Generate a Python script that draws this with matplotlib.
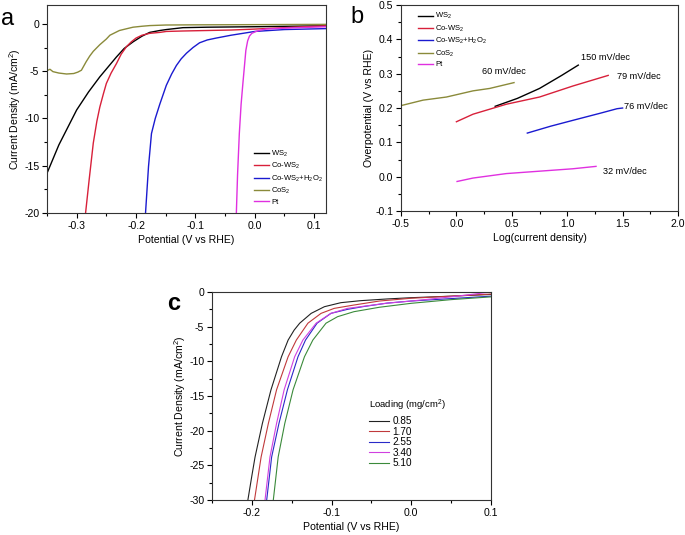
import matplotlib
matplotlib.use('Agg')
import matplotlib.pyplot as plt
from matplotlib.ticker import MultipleLocator
import numpy as np

plt.rcParams['font.family'] = ['Liberation Sans', 'DejaVu Sans']
plt.rcParams['mathtext.default'] = 'regular'
plt.rcParams['axes.unicode_minus'] = False
plt.rcParams['axes.linewidth'] = 0.8
plt.rcParams['axes.edgecolor'] = '#333333'

# ---- panel a: polarization curves ----
names_a = ['WS$_2$', 'Co-WS$_2$', 'Co-WS$_2$+H$_2$O$_2$', 'CoS$_2$', 'Pt']
colors_a = ['black', '#d8203a', '#1a1ad0', '#8a8a3a', '#e030e0']

ws2_x = [-0.35, -0.33, -0.30, -0.28, -0.261, -0.245, -0.233, -0.22, -0.205, -0.19, -0.177,
         -0.16, -0.149, -0.121, -0.08, 0.0, 0.06, 0.12]
ws2_y = [-15.8, -12.8, -9.1, -7.2, -5.6, -4.4, -3.5, -2.6, -1.9, -1.3, -0.9,
         -0.7, -0.6, -0.4, -0.35, -0.3, -0.25, -0.2]
cows2_x = [-0.285, -0.279, -0.272, -0.266, -0.261, -0.255, -0.25, -0.242, -0.233, -0.225,
           -0.216, -0.208, -0.2, -0.19, -0.177, -0.16, -0.149, -0.12, -0.08, -0.04, 0.0, 0.05, 0.12]
cows2_y = [-20, -16.5, -12.6, -10.3, -8.8, -7.4, -6.3, -5.2, -4.2, -3.2,
           -2.4, -1.9, -1.5, -1.2, -1.0, -0.9, -0.8, -0.75, -0.7, -0.65, -0.55, -0.4, -0.2]
h2o2_x = [-0.184, -0.179, -0.174, -0.1676, -0.16, -0.149, -0.14, -0.132, -0.124, -0.115,
          -0.104, -0.093, -0.08, -0.065, -0.04, -0.02, 0.0, 0.05, 0.12]
h2o2_y = [-20, -15.1, -11.6, -10.0, -8.5, -6.5, -5.3, -4.4, -3.7, -3.1,
          -2.5, -2.0, -1.7, -1.5, -1.2, -1.0, -0.8, -0.6, -0.5]
cos2_x = [-0.35, -0.345, -0.34, -0.33, -0.317, -0.305, -0.298, -0.292, -0.284, -0.278, -0.272,
          -0.261, -0.25, -0.244, -0.236, -0.228, -0.215, -0.205, -0.19, -0.177, -0.15, -0.1, 0.0, 0.12]
cos2_y = [-4.95, -4.8, -5.05, -5.2, -5.3, -5.25, -5.1, -4.9, -4.0, -3.4, -2.9,
          -2.2, -1.6, -1.2, -0.95, -0.7, -0.5, -0.35, -0.25, -0.18, -0.12, -0.1, -0.08, -0.05]
pt_x = [-0.031, -0.029, -0.026, -0.023, -0.02, -0.017, -0.015, -0.012, -0.009, -0.005,
        0.002, 0.01, 0.019, 0.05, 0.12]
pt_y = [-20, -16, -11.6, -8.5, -6.3, -4.2, -2.8, -1.8, -1.3, -1.0,
        -0.8, -0.65, -0.55, -0.45, -0.3]

# ---- panel b: Tafel plots ----
tws2_x = [0.35, 0.55, 0.75, 0.95, 1.1]
tws2_y = [0.205, 0.228, 0.257, 0.295, 0.325]
tcows2_x = [0.0, 0.15, 0.45, 0.75, 1.05, 1.37]
tcows2_y = [0.160, 0.182, 0.211, 0.232, 0.264, 0.295]
th2o2_x = [0.64, 0.85, 1.05, 1.3, 1.45, 1.5]
th2o2_y = [0.127, 0.147, 0.164, 0.185, 0.198, 0.200]
tcos2_x = [-0.5, -0.3, -0.09, 0.15, 0.30, 0.52]
tcos2_y = [0.207, 0.223, 0.232, 0.250, 0.257, 0.274]
tpt_x = [0.006, 0.15, 0.45, 0.75, 1.05, 1.26]
tpt_y = [-0.014, -0.004, 0.009, 0.016, 0.023, 0.030]
slopes = ['150 mV/dec', '79 mV/dec', '76 mV/dec', '60 mV/dec', '32 mV/dec']
slope_x = [1.12, 1.45, 1.51, 0.23, 1.32]
slope_y = [0.347, 0.293, 0.203, 0.307, 0.016]

# ---- panel c: loading dependence ----
loadings = ['0.85', '1.70', '2.55', '3.40', '5.10']
colors_c = ['#222222', '#c0393b', '#2a2ac8', '#d040e0', '#3a8a3a']
l085_x = [-0.205, -0.2, -0.196, -0.1868, -0.176, -0.1628, -0.1545, -0.147, -0.140, -0.1256,
          -0.109, -0.0884, -0.0636, -0.03, 0.0, 0.05, 0.1]
l085_y = [-30, -26.5, -23.8, -18.95, -14.1, -9.33, -6.93, -5.5, -4.5, -3.08,
          -2.12, -1.54, -1.25, -1.0, -0.82, -0.6, -0.35]
l170_x = [-0.1967, -0.1884, -0.1793, -0.169, -0.1545, -0.1442, -0.1297, -0.1132, -0.0967,
          -0.072, -0.04, 0.0, 0.05, 0.1]
l170_y = [-30, -23.8, -18.95, -14.1, -9.33, -6.93, -4.5, -3.08, -2.36,
          -1.88, -1.3, -0.9, -0.6, -0.3]
l255_x = [-0.1814, -0.1752, -0.166, -0.1554, -0.1421, -0.1327, -0.1182, -0.1008, -0.080,
          -0.06, -0.03, 0.0, 0.05, 0.1]
l255_y = [-30, -23.8, -18.95, -14.1, -9.33, -6.93, -4.5, -3.08, -2.5,
          -2.1, -1.6, -1.3, -0.95, -0.6]
l340_x = [-0.1835, -0.1773, -0.169, -0.1595, -0.1463, -0.136, -0.1194, -0.1008, -0.080,
          -0.064, -0.03, 0.0, 0.05, 0.1]
l340_y = [-30, -23.8, -18.95, -14.1, -9.33, -6.93, -4.5, -3.08, -2.36,
          -2.12, -1.6, -1.3, -0.7, 0.0]
l510_x = [-0.1731, -0.167, -0.1587, -0.1483, -0.134, -0.1235, -0.107, -0.0925, -0.072,
          -0.04, 0.0, 0.05, 0.1]
l510_y = [-30, -23.8, -18.95, -14.1, -9.33, -6.93, -4.5, -3.56, -2.84,
          -2.2, -1.63, -1.1, -0.7]

fig = plt.figure(figsize=(6.85, 5.35), dpi=100)
axa = fig.add_axes([0.0686, 0.6019, 0.4073, 0.3888])
axb = fig.add_axes([0.5854, 0.6056, 0.4044, 0.3850])
axc = fig.add_axes([0.3095, 0.0654, 0.4073, 0.3888])

FS = 7.6


def style(ax, xmaj, ymaj):
    ax.xaxis.set_major_locator(MultipleLocator(xmaj))
    ax.xaxis.set_minor_locator(MultipleLocator(xmaj / 2))
    ax.yaxis.set_major_locator(MultipleLocator(ymaj))
    ax.yaxis.set_minor_locator(MultipleLocator(ymaj / 2))
    ax.tick_params(which='major', direction='out', length=3.5, width=0.8, labelsize=FS, pad=2)
    ax.tick_params(which='minor', direction='out', length=2, width=0.8)


# panel a
for xs, ys, c, n in zip([ws2_x, cows2_x, h2o2_x, cos2_x, pt_x],
                        [ws2_y, cows2_y, h2o2_y, cos2_y, pt_y], colors_a, names_a):
    axa.plot(xs, ys, color=c, lw=1.0, label=n)
axa.set_xlim(-0.35, 0.12)
axa.set_ylim(-20, 2)
style(axa, 0.1, 5)
axa.set_xticks([-0.3, -0.2, -0.1, 0.0, 0.1])
axa.set_xticklabels(['-0.3', '-0.2', '-0.1', '0.0', '0.1'])
axa.set_xlabel('Potential (V vs RHE)', fontsize=FS, labelpad=3)
axa.set_ylabel('Current Density (mA/cm$^2$)', fontsize=FS, labelpad=1)
axa.legend(loc='lower left', bbox_to_anchor=(0.73, 0.02), frameon=False, fontsize=5.5,
           handlelength=2.0, handletextpad=0.3, labelspacing=0.3, borderaxespad=0.0)
fig.text(0.002, 0.965, 'a', fontsize=17, va='center', ha='left')

# panel b
for xs, ys, c, n in zip([tws2_x, tcows2_x, th2o2_x, tcos2_x, tpt_x],
                        [tws2_y, tcows2_y, th2o2_y, tcos2_y, tpt_y], colors_a, names_a):
    axb.plot(xs, ys, color=c, lw=1.0, label=n)
for s, x, y in zip(slopes, slope_x, slope_y):
    axb.text(x, y, s, fontsize=6.6, va='center', ha='left')
axb.set_xlim(-0.5, 2.0)
axb.set_ylim(-0.1, 0.5)
style(axb, 0.5, 0.1)
axb.set_xlabel('Log(current density)', fontsize=FS, labelpad=3)
axb.set_ylabel('Overpotential (V vs RHE)', fontsize=FS, labelpad=1)
axb.legend(loc='upper left', bbox_to_anchor=(0.05, 0.985), frameon=False, fontsize=5.5,
           handlelength=2.0, handletextpad=0.3, labelspacing=0.3, borderaxespad=0.0)
fig.text(0.512, 0.968, 'b', fontsize=17, va='center', ha='left')

# panel c
for xs, ys, c, n in zip([l085_x, l170_x, l255_x, l340_x, l510_x],
                        [l085_y, l170_y, l255_y, l340_y, l510_y], colors_c, loadings):
    axc.plot(xs, ys, color=c, lw=0.8, label=n)
axc.set_xlim(-0.25, 0.1)
axc.set_ylim(-30, 0)
style(axc, 0.1, 5)
axc.set_xticks([-0.2, -0.1, 0.0, 0.1])
axc.set_xticklabels(['-0.2', '-0.1', '0.0', '0.1'])
axc.set_xlabel('Potential (V vs RHE)', fontsize=FS, labelpad=3)
axc.set_ylabel('Current Density (mA/cm$^2$)', fontsize=FS, labelpad=1)
leg = axc.legend(loc='upper left', bbox_to_anchor=(0.55, 0.51), frameon=False,
                 fontsize=7.2, handlelength=2.0, handletextpad=0.3, labelspacing=0.05,
                 title='Loading (mg/cm$^2$)', title_fontsize=6.8, borderaxespad=0.0)
leg._legend_box.align = 'left'
leg._legend_box.sep = 2
fig.text(0.244, 0.432, 'c', fontsize=17, fontweight='bold', va='center', ha='left')

fig.savefig('out.png', dpi=100)
